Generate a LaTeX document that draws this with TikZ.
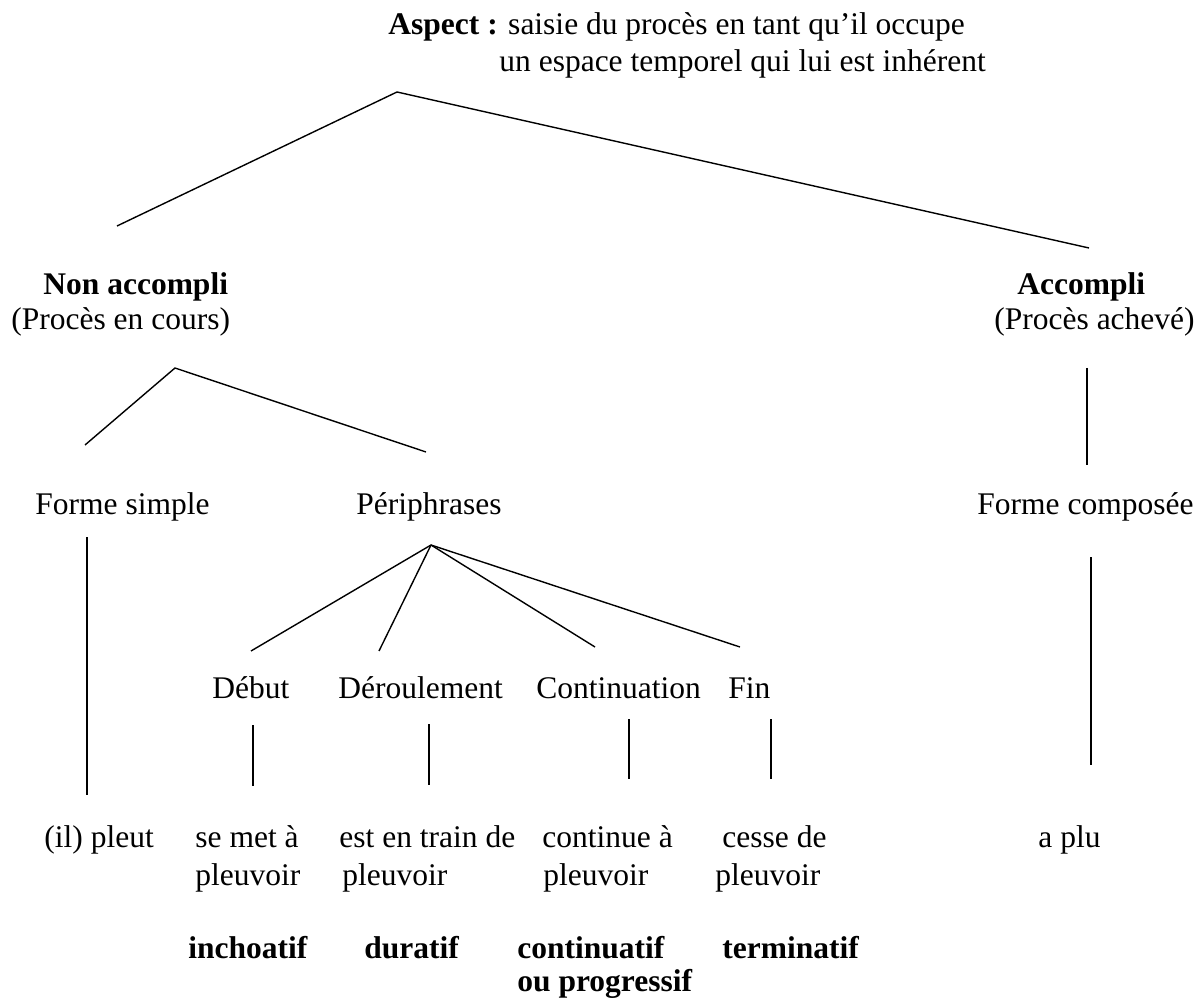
\documentclass[tikz,border=0pt]{standalone}
\usepackage{fontspec}
\setmainfont{Liberation Serif}

\begin{document}
\begin{tikzpicture}[
    x=0.5pt, y=-0.5pt,
    lbl/.style={inner sep=0pt, anchor=base west, font=\fontsize{15.75}{18}\selectfont},
    head/.style={lbl, font=\fontsize{15.75}{18}\selectfont\bfseries},
    branch/.style={line width=0.7pt}
]
\useasboundingbox (0,0) rectangle (1198,999);

% Root
\node[lbl] (aspect) at (388,35) {\textbf{Aspect :} saisie du procès en tant qu’il occupe};
\node[lbl] (aspect2) at (499,72) {un espace temporel qui lui est inhérent};

% Non accompli / Accompli
\node[head] (nonacc) at (43,295) {Non accompli};
\node[lbl] (nonacc2) at (11,330) {(Procès en cours)};
\node[head] (acc) at (1017,295) {Accompli};
\node[lbl] (acc2) at (994,330) {(Procès achevé)};

% Forms
\node[lbl] (simple) at (35,515) {Forme simple};
\node[lbl] (periph) at (356,515) {Périphrases};
\node[lbl] (compos) at (977,515) {Forme composée};

% Phases
\node[lbl] (debut) at (212,698) {Début};
\node[lbl] (deroul) at (338,698) {Déroulement};
\node[lbl] (contin) at (536,698) {Continuation};
\node[lbl] (fin) at (728,698) {Fin};

% Examples
\node[lbl] (pleut) at (44,847) {(il) pleut};
\node[lbl] (met) at (195,847) {se met à};
\node[lbl] (met2) at (195,885) {pleuvoir};
\node[lbl] (train) at (339,847) {est en train de};
\node[lbl] (train2) at (342,885) {pleuvoir};
\node[lbl] (continue) at (542,847) {continue à};
\node[lbl] (continue2) at (543,885) {pleuvoir};
\node[lbl] (cesse) at (722,847) {cesse de};
\node[lbl] (cesse2) at (715,885) {pleuvoir};
\node[lbl] (plu) at (1038,847) {a plu};

% Aspect names
\node[head] (inch) at (188,958) {inchoatif};
\node[head] (durat) at (364,958) {duratif};
\node[head] (contif) at (517,958) {continuatif};
\node[head] (contif2) at (517,991) {ou progressif};
\node[head] (termin) at (722,958) {terminatif};

% Branch points
\coordinate (root) at (397,92);
\coordinate (root-l) at (117,226);
\coordinate (root-r) at (1089,248);
\coordinate (na) at (175,368);
\coordinate (na-l) at (85,445);
\coordinate (na-r) at (426,452);
\coordinate (ac-t) at (1087,368);
\coordinate (ac-b) at (1087,465);
\coordinate (fs-t) at (87,537);
\coordinate (fs-b) at (87,795);
\coordinate (pe) at (431,545);
\coordinate (pe-1) at (251,651);
\coordinate (pe-2) at (379,651);
\coordinate (pe-3) at (595,647);
\coordinate (pe-4) at (740,647);
\coordinate (fc-t) at (1091,557);
\coordinate (fc-b) at (1091,765);
\coordinate (db-t) at (253,725);
\coordinate (db-b) at (253,786);
\coordinate (dr-t) at (429,724);
\coordinate (dr-b) at (429,785);
\coordinate (ct-t) at (629,719);
\coordinate (ct-b) at (629,779);
\coordinate (fn-t) at (771,719);
\coordinate (fn-b) at (771,779);

% Lines
\draw[branch] (root-l) -- (root) -- (root-r);
\draw[branch] (na-l) -- (na) -- (na-r);
\draw[branch] (ac-t) -- (ac-b);
\draw[branch] (fs-t) -- (fs-b);
\draw[branch] (pe) -- (pe-1);
\draw[branch] (pe) -- (pe-2);
\draw[branch] (pe) -- (pe-3);
\draw[branch] (pe) -- (pe-4);
\draw[branch] (fc-t) -- (fc-b);
\draw[branch] (db-t) -- (db-b);
\draw[branch] (dr-t) -- (dr-b);
\draw[branch] (ct-t) -- (ct-b);
\draw[branch] (fn-t) -- (fn-b);

\end{tikzpicture}
\end{document}
